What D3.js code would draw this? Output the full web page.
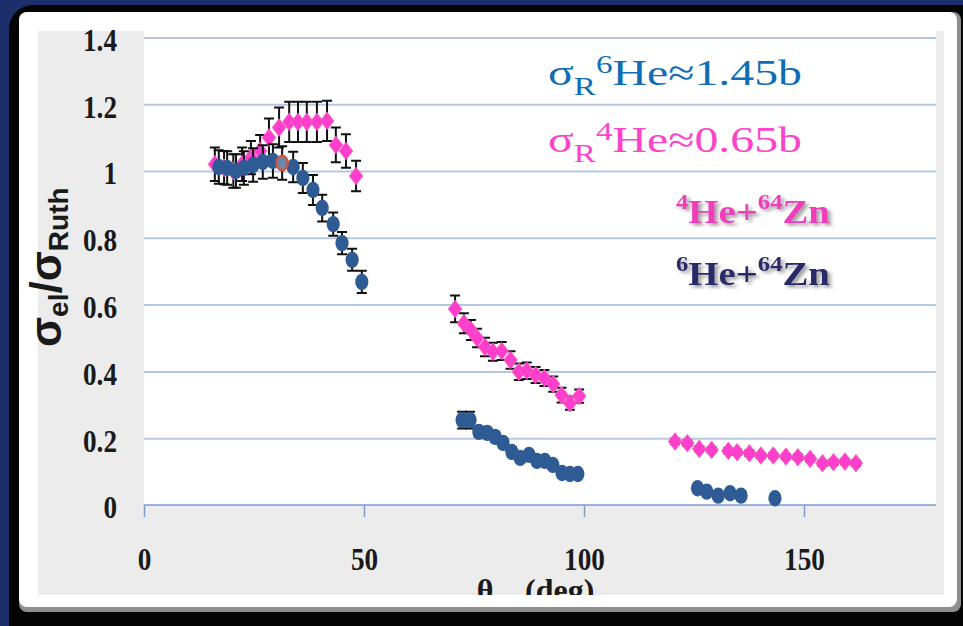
<!DOCTYPE html>
<html>
<head>
<meta charset="utf-8">
<script src="https://cdn.jsdelivr.net/npm/d3@7"></script>
<style>
  body { margin: 0; background: #1d2f6b; }
  svg { display: block; }
</style>
</head>
<body>
<svg id="chart" width="963" height="626"></svg>
<script>
// ---- data: elastic scattering ratio sigma_el / sigma_Ruth vs angle ----
const he4Angle = [16.1, 18.2, 20.3, 22.3, 24.3, 26.4, 28.4, 30.7, 33.0, 35.0, 37.0, 39.3, 41.6, 43.6, 45.9, 48.2,
                  70.7, 72.7, 74.3, 75.7, 77.5, 79.3, 81.3, 83.3, 85.2, 87.0, 89.0, 91.0, 93.0, 94.9, 96.8, 98.9,
                  120.7, 123.5, 126.2, 129.0, 132.8, 134.8, 137.6, 140.2, 143.0, 145.9, 148.6, 151.4, 154.2, 156.7, 159.3, 161.8];
const he4Ratio = [1.02, 1.01, 1.00, 1.02, 1.04, 1.06, 1.10, 1.13, 1.147, 1.147, 1.147, 1.147, 1.15, 1.078, 1.06, 0.985,
                  0.587, 0.544, 0.524, 0.500, 0.473, 0.459, 0.461, 0.434, 0.399, 0.402, 0.389, 0.380, 0.362, 0.329, 0.305, 0.326,
                  0.190, 0.185, 0.168, 0.165, 0.162, 0.158, 0.155, 0.148, 0.148, 0.145, 0.143, 0.138, 0.125, 0.128, 0.130, 0.125];
const he4Err   = [0.05, 0.05, 0.05, 0.05, 0.05, 0.048, 0.057, 0.06, 0.06, 0.06, 0.06, 0.06, 0.06, 0.052, 0.05, 0.046,
                  0.04, 0.03, 0.03, 0.028, 0.028, 0.027, 0.027, 0.026, 0.025, 0.025, 0.024, 0.024, 0.023, 0.022, 0.02, 0.02,
                  0.008, 0.008, 0.008, 0.008, 0.008, 0.008, 0.008, 0.008, 0.008, 0.008, 0.008, 0.008, 0.008, 0.008, 0.008, 0.008];

const he6Angle = [17.0, 18.9, 20.9, 22.7, 24.8, 27.0, 29.3, 33.9, 36.1, 38.4, 40.5, 43.0, 45.0, 47.3, 49.5,
                  72.3, 74.1, 76.1, 78.0, 79.8, 81.6, 83.6, 85.5, 87.5, 89.3, 91.1, 92.9, 95.0, 96.8, 98.6,
                  125.8, 127.9, 130.5, 133.2, 135.7, 143.4];
const he6Ratio = [1.012, 1.009, 1.000, 1.009, 1.018, 1.027, 1.030, 1.012, 0.979, 0.943, 0.889, 0.841, 0.784, 0.734, 0.668,
                  0.254, 0.254, 0.219, 0.216, 0.204, 0.186, 0.159, 0.141, 0.150, 0.132, 0.132, 0.120, 0.096, 0.093, 0.093,
                  0.050, 0.040, 0.028, 0.035, 0.028, 0.020];
const he6Err   = [0.05, 0.05, 0.05, 0.05, 0.05, 0.05, 0.05, 0.046, 0.045, 0.045, 0.04, 0.035, 0.033, 0.033, 0.033,
                  0.025, 0.025, 0.015, 0.015, 0.015, 0.014, 0.014, 0.013, 0.013, 0.013, 0.012, 0.012, 0.012, 0.012, 0.012,
                  0.005, 0.005, 0.005, 0.005, 0.005, 0.005];

// single highlighted 6He point (open ring)
const ringAngle = [31.4];
const ringRatio = [1.024];
const ringErr   = [0.05];

const xTicks = [0, 50, 100, 150];
const yTicks = [0, 0.2, 0.4, 0.6, 0.8, 1, 1.2, 1.4];

const he4 = he4Angle.map((a, i) => ({ a, v: he4Ratio[i], e: he4Err[i] }));
const he6 = he6Angle.map((a, i) => ({ a, v: he6Ratio[i], e: he6Err[i] }));
const ring = ringAngle.map((a, i) => ({ a, v: ringRatio[i], e: ringErr[i] }));

// ---- scales ----
const x = d3.scaleLinear().domain([0, 180]).range([144, 936]);
const y = d3.scaleLinear().domain([0, 1.4]).range([505, 37.4]);

const svg = d3.select("#chart");

// ---- slide frame ----
svg.append("rect").attr("width", 963).attr("height", 626).attr("fill", "#1d2f6b");
svg.append("rect").attr("x", 9).attr("y", 5).attr("width", 990).attr("height", 680).attr("rx", 24).attr("fill", "#050505");
svg.append("rect").attr("x", 19).attr("y", 12).attr("width", 942).attr("height", 600).attr("rx", 8).attr("fill", "#8f8f8f");
svg.append("rect").attr("x", 19).attr("y", 12).attr("width", 938).attr("height", 595).attr("rx", 8).attr("fill", "#ffffff");

// chart panel and plot area
svg.append("rect").attr("x", 38).attr("y", 31).attr("width", 906).attr("height", 564).attr("fill", "#ececec");
svg.append("rect").attr("x", x(0)).attr("y", 31).attr("width", x(180) - x(0)).attr("height", y(0) - 31).attr("fill", "#ffffff");

const defs = svg.append("defs");
defs.append("clipPath").attr("id", "panelClip")
  .append("rect").attr("x", 38).attr("y", 31).attr("width", 906).attr("height", 564);
const shadow = defs.append("filter").attr("id", "txtShadow")
  .attr("x", "-10%").attr("y", "-20%").attr("width", "130%").attr("height", "150%");
shadow.append("feDropShadow").attr("dx", 2.5).attr("dy", 2.5).attr("stdDeviation", 1.6)
  .attr("flood-color", "#777").attr("flood-opacity", 0.75);

// ---- gridlines + y tick labels ----
const yAxis = d3.axisLeft(y).tickValues(yTicks).tickSize(-(x(180) - x(0))).tickFormat(d3.format("~g"));
const gy = svg.append("g").attr("transform", `translate(${x(0)},0)`).call(yAxis);
gy.select(".domain").remove();
gy.selectAll(".tick line").attr("stroke", "#b6c7e3").attr("stroke-width", 2);
gy.selectAll(".tick").filter(d => d === 0).select("line").remove();
gy.selectAll(".tick text")
  .attr("font-family", "Liberation Serif, Times New Roman, serif")
  .attr("font-weight", "bold").attr("font-size", 32).attr("fill", "#1a1a1a")
  .attr("x", -27 / 0.85).attr("dy", "0.4em")
  .attr("transform", "scale(0.85,1)");

// ---- x axis ----
const xAxis = d3.axisBottom(x).tickValues(xTicks).tickSize(12).tickPadding(30).tickFormat(d3.format("d"));
const gx = svg.append("g").attr("transform", `translate(0,${y(0)})`).call(xAxis);
gx.select(".domain").attr("stroke", "#7d9bd0").attr("stroke-width", 1.5).attr("d", `M${x(0)},0H${x(180)}`);
gx.selectAll(".tick line").attr("stroke", "#7d9bd0").attr("stroke-width", 1.5);
gx.selectAll(".tick text")
  .attr("font-family", "Liberation Serif, Times New Roman, serif")
  .attr("font-weight", "bold").attr("font-size", 32).attr("fill", "#1a1a1a")
  .attr("transform", "scale(0.85,1)");

// x axis title (runs off the bottom of the panel)
const xt = svg.append("g").attr("clip-path", "url(#panelClip)")
  .attr("font-family", "Liberation Serif, Times New Roman, serif")
  .attr("font-weight", "bold").attr("font-size", 32).attr("fill", "#1a1a1a");
xt.append("text").attr("x", 485).attr("y", 601).attr("text-anchor", "middle").text("θ");
xt.append("text").attr("x", 525).attr("y", 601).text("(deg)");

// y axis title
const yt = svg.append("text").attr("transform", "translate(61,347) rotate(-90)")
  .attr("font-family", "Liberation Sans, Arial, sans-serif").attr("font-weight", "bold").attr("fill", "#1a1a1a");
yt.append("tspan").attr("font-size", 44).text("σ");
yt.append("tspan").attr("font-size", 28).attr("dy", 7).text("el");
yt.append("tspan").attr("font-size", 44).attr("dy", -7).text("/");
yt.append("tspan").attr("font-size", 44).text("σ");
yt.append("tspan").attr("font-size", 28).attr("dy", 7).text("Ruth");

// ---- marks ----
const diamond = (cx, cy, w, h) => `M${cx},${cy - h}L${cx + w},${cy}L${cx},${cy + h}L${cx - w},${cy}Z`;

function errorBars(data, cls) {
  const g = svg.append("g").attr("class", cls).attr("stroke", "#111").attr("stroke-width", 2);
  g.selectAll("path").data(data).join("path")
    .attr("fill", "none")
    .attr("d", d => {
      const cx = x(d.a), y1 = y(d.v + d.e), y2 = y(d.v - d.e);
      return `M${cx},${y1}V${y2}M${cx - 5},${y1}H${cx + 5}M${cx - 5},${y2}H${cx + 5}`;
    });
}

errorBars(he4, "err-he4");
svg.append("g").attr("class", "he4")
  .selectAll("path").data(he4).join("path")
  .attr("d", d => diamond(x(d.a), y(d.v), 6.8, 8.8))
  .attr("fill", "#ff3fcc").attr("stroke", "#f25fc8").attr("stroke-width", 0.8);

errorBars(he6.concat(ring), "err-he6");
svg.append("g").attr("class", "he6")
  .selectAll("ellipse").data(he6).join("ellipse")
  .attr("cx", d => x(d.a)).attr("cy", d => y(d.v))
  .attr("rx", 6.6).attr("ry", 8.2)
  .attr("fill", "#2f5b94");
svg.append("g").attr("class", "he6-ring")
  .selectAll("ellipse").data(ring).join("ellipse")
  .attr("cx", d => x(d.a)).attr("cy", d => y(d.v))
  .attr("rx", 5.6).attr("ry", 7.2)
  .attr("fill", "#6f86b2").attr("stroke", "#cc5638").attr("stroke-width", 2.4);

// ---- annotations ----
function fitWidth(sel, x0, w) {
  const bw = sel.node().getBBox().width;
  const k = w / bw;
  sel.attr("transform", `translate(${x0},0) scale(${k},1) translate(${-x0},0)`);
}

function crossSection(x0, base, color, mass, value) {
  const t = svg.append("text").attr("x", x0).attr("y", base)
    .attr("font-family", "Liberation Serif, Times New Roman, serif").attr("fill", color);
  t.append("tspan").attr("font-size", 36).text("σ");
  t.append("tspan").attr("font-size", 25).attr("dy", 10).text("R");
  t.append("tspan").attr("font-size", 25).attr("dy", -22).text(mass);
  t.append("tspan").attr("font-size", 36).attr("dy", 12).text("He≈" + value + "b");
  fitWidth(t, x0, 254);
}
crossSection(548, 85, "#0f6db5", "6", "1.45");
crossSection(548, 152, "#fb44c9", "4", "0.65");

function reaction(x0, base, color, mass) {
  const t = svg.append("text").attr("x", x0).attr("y", base)
    .attr("font-family", "Liberation Serif, Times New Roman, serif").attr("font-weight", "bold")
    .attr("fill", color).attr("filter", "url(#txtShadow)");
  t.append("tspan").attr("font-size", 21).attr("dy", -14).text(mass);
  t.append("tspan").attr("font-size", 33).attr("dy", 14).text("He+");
  t.append("tspan").attr("font-size", 21).attr("dy", -14).text("64");
  t.append("tspan").attr("font-size", 33).attr("dy", 14).text("Zn");
  fitWidth(t, x0, 154);
}
reaction(676, 223, "#f03dbc", "4");
reaction(676, 285, "#2b2a6b", "6");
</script>
</body>
</html>
